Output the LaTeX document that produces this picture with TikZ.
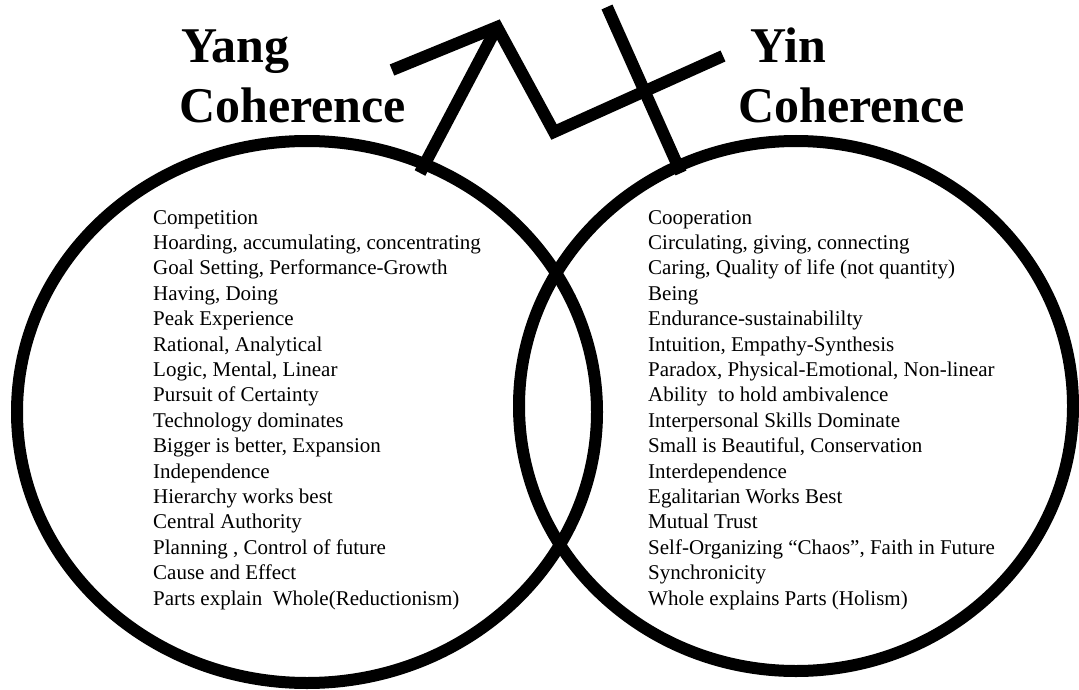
\documentclass[tikz,border=0pt]{standalone}
\usepackage{fontspec}
\setmainfont{Liberation Serif}
\usepackage{tikz}
\usetikzlibrary{positioning}

\begin{document}
\begin{tikzpicture}[x=1pt,y=-1pt,
    ring/.style={line width=12pt},
    sign/.style={line width=12pt, line join=miter},
    title/.style={anchor=base west, inner sep=0pt, font=\fontsize{50}{60}\selectfont\bfseries},
    item/.style={anchor=base west, inner sep=0pt, font=\fontsize{21}{25}\selectfont}]
    \useasboundingbox (0,0) rectangle (1079,690);

    % Draw the two circles
    \draw[ring] (307,412) ellipse [x radius=290pt, y radius=271pt];
    \draw[ring] (796,406) ellipse [x radius=277pt, y radius=265pt];

    % Titles
    \node[title] (yang) at (181,63) {Yang};
    \node[title] (yangcoh) at (179,123) {Coherence};
    \node[title] (yin) at (750,63) {Yin};
    \node[title] (yincoh) at (738,123) {Coherence};

    % Male and female signs
    \coordinate (marsfoot) at (420,173);
    \coordinate (marstip) at (497,27);
    \coordinate (marsarm) at (392,70);
    \coordinate (zig) at (554,132);
    \coordinate (barend) at (723,56);
    \coordinate (venustop) at (607,7);
    \coordinate (venusfoot) at (681,173);
    \draw[sign] (marsfoot) -- (marstip);
    \draw[sign] (marsarm) -- (marstip) -- (zig) -- (barend);
    \draw[sign] (venustop) -- (venusfoot);

    % Yang list
    \foreach \txt [count=\i] in {Competition, {Hoarding, accumulating, concentrating},
      {Goal Setting, Performance-Growth}, {Having, Doing}, Peak Experience,
      {Rational, Analytical}, {Logic, Mental, Linear}, Pursuit of Certainty,
      Technology dominates, {Bigger is better, Expansion}, Independence,
      Hierarchy works best, Central Authority, {Planning , Control of future},
      Cause and Effect, Parts explain~ Whole(Reductionism)} {
      \node[item] (yang\i) at (153,198.6+25.4*\i) {\txt};
    }

    % Yin list
    \foreach \txt [count=\i] in {Cooperation, {Circulating, giving, connecting},
      {Caring, Quality of life (not quantity)}, Being, Endurance-sustainabililty,
      {Intuition, Empathy-Synthesis}, {Paradox, Physical-Emotional, Non-linear},
      Ability~ to hold ambivalence, Interpersonal Skills Dominate,
      {Small is Beautiful, Conservation}, Interdependence, Egalitarian Works Best,
      Mutual Trust, {Self-Organizing “Chaos”, Faith in Future}, Synchronicity,
      Whole explains Parts (Holism)} {
      \node[item] (yin\i) at (648,198.6+25.4*\i) {\txt};
    }
\end{tikzpicture}
\end{document}
